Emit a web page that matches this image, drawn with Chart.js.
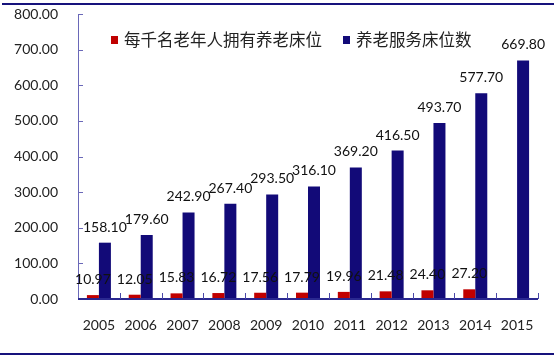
<!DOCTYPE html>
<html>
<head>
<meta charset="utf-8">
<script src="https://cdn.jsdelivr.net/npm/chart.js@4.4.1/dist/chart.umd.min.js"></script>
<style>
html,body{margin:0;padding:0;background:#fff;}
#wrap{width:554px;height:357px;position:relative;}
</style>
</head>
<body>
<div id="wrap"><canvas id="c" width="554" height="357"></canvas></div>
<script>
const years = ['2005','2006','2007','2008','2009','2010','2011','2012','2013','2014','2015'];
const perThousand = [10.97,12.05,15.83,16.72,17.56,17.79,19.96,21.48,24.40,27.20,null];
const beds = [158.10,179.60,242.90,267.40,293.50,316.10,369.20,416.50,493.70,577.70,669.80];
const seriesNames = ['每千名老年人拥有养老床位','养老服务床位数'];
const yTicks = [0,100,200,300,400,500,600,700,800];

const RED = '#C00000';
const NAVY = '#120A78';
const NUMFONT = '14px Lato, "Liberation Sans", sans-serif';

const deco = {
  id:'deco',
  beforeDraw(chart){
    const ctx = chart.ctx;
    ctx.save();
    ctx.strokeStyle = '#16127C';
    ctx.lineWidth = 2;
    ctx.beginPath();
    ctx.moveTo(2,4); ctx.lineTo(554,4);
    ctx.moveTo(0,354); ctx.lineTo(554,354);
    ctx.stroke();
    ctx.restore();
  },
  afterDatasetsDraw(chart){
    const ctx = chart.ctx;
    const xs = chart.scales.x, ys = chart.scales.y;
    const area = chart.chartArea;
    ctx.save();
    ctx.strokeStyle = '#6A68B8';
    ctx.lineWidth = 1;
    ctx.beginPath();
    ctx.moveTo(area.left+0.5, area.top);
    ctx.lineTo(area.left+0.5, area.bottom);
    yTicks.forEach(v=>{
      const y = Math.round(ys.getPixelForValue(v))+0.5;
      ctx.moveTo(area.left, y); ctx.lineTo(area.left+5, y);
    });
    ctx.stroke();
    ctx.strokeStyle = '#2A2890';
    ctx.lineWidth = 2;
    ctx.beginPath();
    ctx.moveTo(area.left, area.bottom);
    ctx.lineTo(area.right, area.bottom);
    ctx.stroke();
    ctx.lineWidth = 1;
    ctx.strokeStyle = '#4A48A8';
    ctx.beginPath();
    const step = (area.right-area.left)/years.length;
    for(let i=1;i<=years.length;i++){
      const x = Math.round(area.left + i*step)+0.5;
      ctx.moveTo(x, area.bottom); ctx.lineTo(x, area.bottom-6);
    }
    ctx.stroke();
    ctx.fillStyle = '#111';
    ctx.font = NUMFONT;
    ctx.textAlign = 'center';
    ctx.textBaseline = 'alphabetic';
    chart.data.datasets.forEach((ds,di)=>{
      const meta = chart.getDatasetMeta(di);
      meta.data.forEach((el,i)=>{
        const v = ds.data[i];
        if(v==null) return;
        ctx.fillText(v.toFixed(2), el.x, el.y-11);
      });
    });
    ctx.textAlign = 'left';
    ctx.textBaseline = 'middle';
    ctx.font = '16.5px "Noto Sans CJK SC", sans-serif';
    const items = [{x:111,c:RED,t:seriesNames[0]},{x:343,c:NAVY,t:seriesNames[1]}];
    items.forEach(it=>{
      ctx.fillStyle = it.c;
      ctx.fillRect(it.x, 36, 7, 8);
      ctx.fillStyle = '#222';
      ctx.fillText(it.t, it.x+13, 40);
    });
    ctx.restore();
  }
};

new Chart(document.getElementById('c'), {
  type:'bar',
  data:{
    labels: years,
    datasets:[
      {label:seriesNames[0], data:perThousand, backgroundColor:RED, categoryPercentage:0.574, barPercentage:1.0},
      {label:seriesNames[1], data:beds, backgroundColor:NAVY, categoryPercentage:0.574, barPercentage:1.0}
    ]
  },
  options:{
    responsive:false,
    animation:false,
    devicePixelRatio:1,
    layout:{padding:{left:0,right:16,top:14,bottom:0}},
    plugins:{legend:{display:false}, tooltip:{enabled:false}},
    scales:{
      x:{
        grid:{display:false, drawTicks:false},
        border:{display:false},
        ticks:{color:'#222', font:{family:'Lato, "Liberation Sans", sans-serif', size:14}, padding:18, maxRotation:0},
        afterFit(s){ s.height = 58; s.paddingLeft = 0; s.paddingRight = 0; }
      },
      y:{
        min:0, max:800,
        afterBuildTicks(s){ s.ticks = yTicks.map(v=>({value:v})); },
        grid:{display:false, drawTicks:false},
        border:{display:false},
        ticks:{color:'#222', font:{family:'Lato, "Liberation Sans", sans-serif', size:14}, padding:20,
          callback:(v)=>Number(v).toFixed(2)},
        afterFit(s){ s.width = 78; s.paddingTop = 0; s.paddingBottom = 0; }
      }
    }
  },
  plugins:[deco]
});
</script>
</body>
</html>
